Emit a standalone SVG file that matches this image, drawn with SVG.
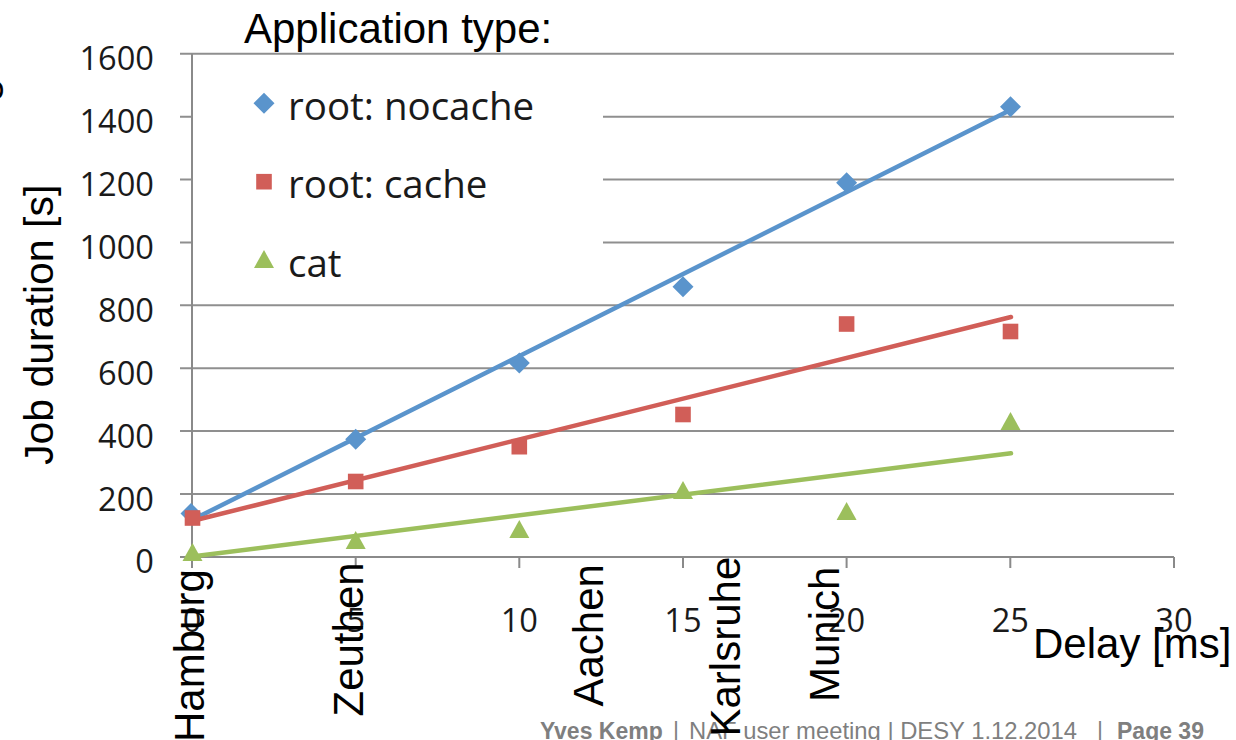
<svg xmlns="http://www.w3.org/2000/svg" width="1236" height="740" viewBox="0 0 1236 740">
<defs>
<style>
.grid{stroke:#8f8f8f;stroke-width:2;fill:none}
.axis{stroke:#8a8a8a;stroke-width:2;fill:none}
.tick{font-family:"Open Sans","Liberation Sans",sans-serif;font-size:32.6px;fill:#1a1a1a}
.leg{font-family:"Open Sans","Liberation Sans",sans-serif;font-size:38.5px;fill:#1a1a1a}
.big{font-family:"Liberation Sans",Arial,sans-serif;font-size:42px;fill:#000}
.foot{font-family:"Liberation Sans",Arial,sans-serif;font-size:23px;fill:#7f7f7f}
.b{stroke:#5a94cc}.r{stroke:#d15e58}.g{stroke:#9cbf5c}
.trend{stroke-width:4.5;stroke-linecap:round;fill:none}
.fb{fill:#5a94cc}.fr{fill:#d15e58}.fg{fill:#9cbf5c}
</style>
<path id="dia" d="M0,-10.5 L10.5,0 L0,10.5 L-10.5,0 Z"/>
<rect id="sq" x="-7.8" y="-7.8" width="15.6" height="15.6"/>
<path id="tri" d="M0,0 L10,18 L-10,18 Z"/>
</defs>

<g id="gridlines">
<line class="grid" x1="180" y1="53.8" x2="1174" y2="53.8"/>
<line class="grid" x1="603" y1="116.7" x2="1174" y2="116.7"/>
<line class="grid" x1="603" y1="179.6" x2="1174" y2="179.6"/>
<line class="grid" x1="603" y1="242.4" x2="1174" y2="242.4"/>
<line class="grid" x1="180" y1="305.3" x2="1174" y2="305.3"/>
<line class="grid" x1="180" y1="368.2" x2="1174" y2="368.2"/>
<line class="grid" x1="180" y1="431.1" x2="1174" y2="431.1"/>
<line class="grid" x1="180" y1="494" x2="1174" y2="494"/>
<path class="grid" d="M180,116.7H192M180,179.6H192M180,242.4H192"/>
</g>

<g id="axes">
<line class="axis" x1="192" y1="53.8" x2="192" y2="557"/>
<line class="axis" x1="180" y1="557" x2="1174" y2="557"/>
<path class="axis" d="M192,557V568M355.7,557V568M519.3,557V568M683,557V568M846.6,557V568M1010.3,557V568M1174,557V568"/>
</g>

<g id="y-tick-labels" class="tick" text-anchor="end">
<text x="154" y="70.3">1600</text>
<text x="154" y="133.2">1400</text>
<text x="154" y="196.1">1200</text>
<text x="154" y="258.9">1000</text>
<text x="154" y="321.8">800</text>
<text x="154" y="384.7">600</text>
<text x="154" y="447.6">400</text>
<text x="154" y="510.5">200</text>
<text x="154" y="573.4">0</text>
</g>

<g id="x-tick-labels" class="tick" text-anchor="middle">
<text x="192" y="632">0</text>
<text x="355.7" y="632">5</text>
<text x="519.3" y="632">10</text>
<text x="683" y="632">15</text>
<text x="846.6" y="632">20</text>
<text x="1010.3" y="632">25</text>
<text x="1174" y="632">30</text>
</g>

<g id="connectors">
<line class="trend b" x1="192" y1="520" x2="1010.5" y2="110"/>
<line class="trend r" x1="192" y1="521" x2="1011" y2="317"/>
<line class="trend g" x1="192" y1="556.5" x2="1011" y2="453.3"/>
</g>

<g id="series-nocache" class="fb">
<use href="#dia" x="191" y="513.5"/>
<use href="#dia" x="355.7" y="439.3"/>
<use href="#dia" x="519.3" y="363"/>
<use href="#dia" x="683" y="286.7"/>
<use href="#dia" x="846.6" y="182.7"/>
<use href="#dia" x="1010.5" y="106.7"/>
</g>
<g id="series-cache" class="fr">
<use href="#sq" x="192.5" y="518"/>
<use href="#sq" x="355.7" y="481.5"/>
<use href="#sq" x="519.3" y="446.7"/>
<use href="#sq" x="683" y="414.5"/>
<use href="#sq" x="846.6" y="324"/>
<use href="#sq" x="1010.5" y="331.5"/>
</g>
<g id="series-cat" class="fg">
<use href="#tri" x="192.5" y="543"/>
<use href="#tri" x="355.7" y="531"/>
<use href="#tri" x="519.3" y="520"/>
<use href="#tri" x="683" y="481"/>
<use href="#tri" x="846.6" y="502"/>
<use href="#tri" x="1010.5" y="412"/>
</g>

<g id="legend">
<text class="big" x="244" y="43">Application type:</text>
<use href="#dia" x="264" y="103.3" class="fb"/>
<text class="leg" x="288" y="120">root: nocache</text>
<use href="#sq" x="264" y="181.7" class="fr"/>
<text class="leg" x="288" y="198">root: cache</text>
<use href="#tri" x="264" y="250" class="fg"/>
<text class="leg" x="288" y="277">cat</text>
</g>

<g id="axis-titles" class="big">
<text transform="translate(53,465) rotate(-90)" font-size="41">Job duration [s]</text>
<text transform="translate(3,102) rotate(-90)" font-size="41">e</text>
<text x="1033" y="658">Delay [ms]</text>
</g>

<g id="footer" class="foot">
<text x="540" y="739"><tspan font-weight="bold">Yves Kemp</tspan><tspan x="673">|</tspan><tspan x="689" font-size="23.8">NAF user meeting | DESY 1.12.2014</tspan><tspan x="1097">|</tspan><tspan x="1117" font-weight="bold">Page 39</tspan></text>
</g>

<g id="city-labels" class="big">
<text transform="translate(204,742) rotate(-90)">Hamburg</text>
<text transform="translate(363,716.5) rotate(-90)">Zeuthen</text>
<text transform="translate(603,706.5) rotate(-90)">Aachen</text>
<text transform="translate(740,736.5) rotate(-90)">Karlsruhe</text>
<text transform="translate(839,702) rotate(-90)">Munich</text>
</g>
</svg>
